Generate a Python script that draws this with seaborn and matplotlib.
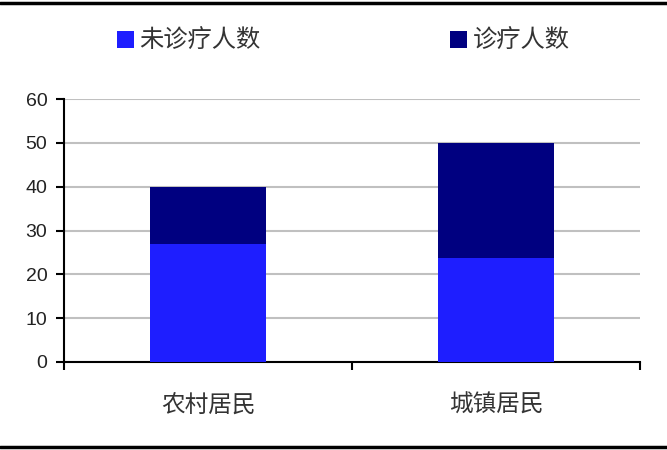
import matplotlib
matplotlib.use("Agg")
import matplotlib.pyplot as plt
import seaborn as sns
import pandas as pd
from matplotlib.patches import Patch
from matplotlib.lines import Line2D

categories = ["农村居民", "城镇居民"]
untreated = [27, 23.8]
treated = [13, 26.2]
series_names = ["未诊疗人数", "诊疗人数"]
yticks = [0, 10, 20, 30, 40, 50, 60]

sns.set_theme(style="white")
plt.rcParams["font.family"] = ["Noto Sans CJK SC", "DejaVu Sans"]

c_untreated = "#1E1EFF"
c_treated = "#000080"

fig = plt.figure(figsize=(6.67, 4.5), dpi=100)
ax = fig.add_axes([64/667, 1 - 362/450, (640 - 64)/667, (362 - 99)/450])

df = pd.DataFrame({"cat": categories,
                   "total": [u + t for u, t in zip(untreated, treated)],
                   "untreated": untreated})

sns.barplot(data=df, x="cat", y="total", color=c_treated, width=0.4,
            saturation=1, ax=ax, zorder=3, linewidth=0, edgecolor="none")
sns.barplot(data=df, x="cat", y="untreated", color=c_untreated, width=0.4,
            saturation=1, ax=ax, zorder=3, linewidth=0, edgecolor="none")

ax.set_xlim(-0.5, 1.5)
ax.set_ylim(0, 60)
ax.set_yticks(yticks)
ax.set_yticklabels([str(v) for v in yticks], fontsize=14, color="#222222",
                   family=["Liberation Sans", "DejaVu Sans"])
ax.yaxis.grid(True, color="#C0C0C0", linewidth=1.5, zorder=0)
ax.set_axisbelow(True)

ax.set_xticks([-0.5, 0.5, 1.5])
ax.set_xticklabels([])
ax.set_xticks([0, 1], minor=True)
ax.set_xticklabels(categories, minor=True, fontsize=17, color="#333333")
ax.tick_params(axis="x", which="minor", length=0, pad=23)
ax.tick_params(axis="x", which="major", length=6, width=1.5, direction="out", color="black", bottom=True)
ax.tick_params(axis="y", length=6, width=1.5, direction="out", color="black", left=True, pad=6)
ax.set_xlabel("")
ax.set_ylabel("")

for s in ["top", "right"]:
    ax.spines[s].set_visible(False)
for s in ["left", "bottom"]:
    ax.spines[s].set_color("black")
    ax.spines[s].set_linewidth(1.5)

handles = [Patch(facecolor=c_untreated, edgecolor="none"),
           Patch(facecolor=c_treated, edgecolor="none")]
leg = fig.legend(handles, series_names, loc="center left",
                 bbox_to_anchor=(117/667, 1 - 41/450), ncol=2, frameon=False,
                 fontsize=17.5, handlelength=0.68, handleheight=0.68,
                 handletextpad=0.25, columnspacing=7.8, borderpad=0,
                 borderaxespad=0)
for t in leg.get_texts():
    t.set_color("#333333")

fig.add_artist(Line2D([0, 1], [1 - 3/450, 1 - 3/450], color="black", linewidth=2.5,
                      transform=fig.transFigure))
fig.add_artist(Line2D([0, 1], [1 - 447/450, 1 - 447/450], color="black", linewidth=2.5,
                      transform=fig.transFigure))

fig.savefig("out.png", dpi=100)
